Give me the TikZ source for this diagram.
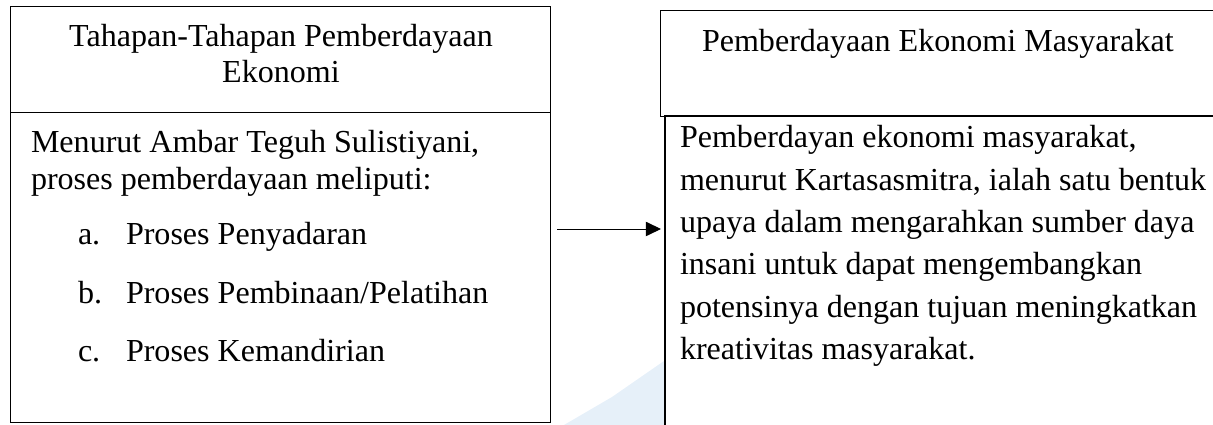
\documentclass[tikz,border=0pt]{standalone}
\usepackage{fontspec}
\setmainfont{Liberation Serif}
\usetikzlibrary{arrows.meta}
\definecolor{bayang}{RGB}{230,240,249}
\begin{document}
\begin{tikzpicture}[inner sep=0pt,outer sep=0pt,line width=0.7pt,
kotak/.style={draw,rectangle,anchor=south west},
teks/.style={align=left,anchor=base west,font=\fontsize{22.8pt}{27pt}\selectfont},
judul/.style={align=center,anchor=base,font=\fontsize{22.8pt}{26.3pt}\selectfont}]

\clip (0,0) rectangle (30.325,10.625);

% bayangan tanda air
\fill[bayang] (14.1,0) -- (15.3,0.7) -- (16.6,1.6) -- (16.6,0) -- cycle;

% kotak kiri (baseline = baris terakhir)
\draw (0.25,7.825) node[kotak,minimum width=13.5cm,minimum height=2.65cm] (judul1) {};
\draw (0.25,0.075) node[kotak,minimum width=13.5cm,minimum height=7.75cm] (isi1) {};
\draw (7.025,8.55) node[judul] (tjudul1) {Tahapan-Tahapan Pemberdayaan\\Ekonomi};
\draw (0.775,5.875) node[teks] (tisi1) {Menurut Ambar Teguh Sulistiyani,\\proses pemberdayaan meliputi:};
\draw (1.95,4.5) node[teks] (la) {a.};
\draw (3.15,4.5) node[teks] (pa) {Proses Penyadaran};
\draw (1.95,3.025) node[teks] (lb) {b.};
\draw (3.15,3.025) node[teks] (pb) {Proses Pembinaan/Pelatihan};
\draw (1.95,1.575) node[teks] (lc) {c.};
\draw (3.15,1.575) node[teks] (pc) {Proses Kemandirian};

% kotak kanan
\draw (16.5,7.725) node[kotak,minimum width=14.5cm,minimum height=2.65cm] (judul2) {};
\draw (16.625,-1) node[kotak,line width=1.4pt,minimum width=14.5cm,minimum height=8.725cm] (isi2) {};
\draw (17.55,9.325) node[teks] (tjudul2) {Pemberdayaan Ekonomi Masyarakat};
\draw (17,1.6375) node[teks,font=\fontsize{22.8pt}{30.1pt}\selectfont] (tisi2) {Pemberdayan ekonomi masyarakat,\\menurut Kartasasmitra, ialah satu bentuk\\upaya dalam mengarahkan sumber daya\\insani untuk dapat mengembangkan\\potensinya dengan tujuan meningkatkan\\kreativitas masyarakat.};

\coordinate (pangkal) at (13.925,4.9);
\draw[-{Triangle[length=0.38cm,width=0.36cm]}] (pangkal) -- ([xshift=-0.1cm]pangkal -| isi2.west);
\end{tikzpicture}
\end{document}
